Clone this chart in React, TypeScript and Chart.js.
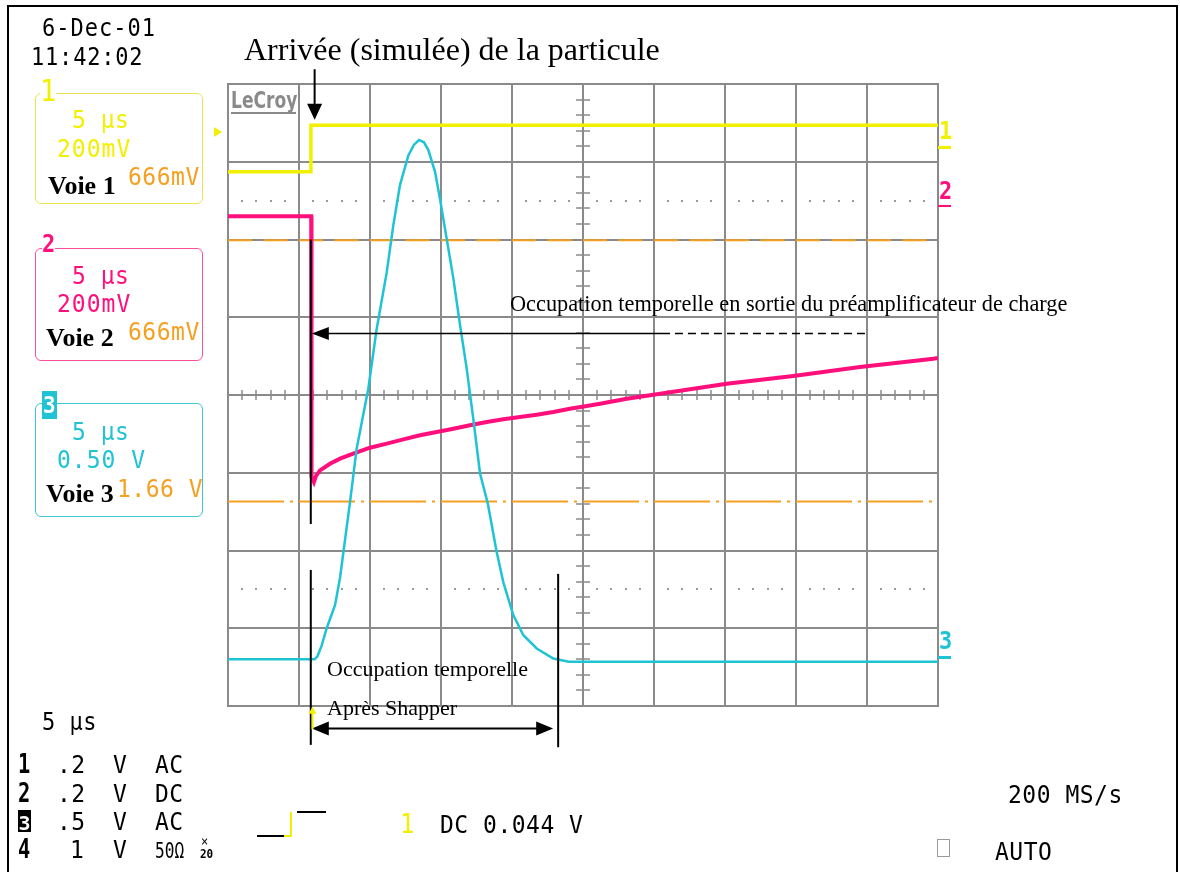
import React, { useEffect, useRef } from "react";
import { Chart, registerables } from "chart.js";

Chart.register(...registerables);

const W = 1180;
const H = 872;

// Graticule: 10 horizontal divisions of 5 µs, 8 vertical divisions
const timeGridUs = [0, 5, 10, 15, 20, 25, 30, 35, 40, 45, 50];
const levelGridDiv = [-4, -3, -2, -1, 0, 1, 2, 3, 4];

// Voie 1 (yellow) – trigger step
const ch1TimeUs = [0, 5.82, 5.84, 50];
const ch1LevelDiv = [2.87, 2.87, 3.47, 3.47];

// Voie 2 (pink) – preamplifier output
const ch2TimeUs = [0, 5.86, 5.88, 6.05, 6.2, 6.48, 7.18, 7.89, 8.82, 10.0, 11.18, 12.35, 13.52, 14.7, 15.87, 17.04, 18.22, 19.39, 20.56, 21.74, 22.91, 24.08, 25.26, 26.2, 28.08, 31.6, 35.12, 39.81, 44.51, 49.67, 50];
const ch2LevelDiv = [2.3, 2.3, -1.05, -1.12, -1.04, -0.97, -0.884, -0.819, -0.755, -0.678, -0.626, -0.57, -0.518, -0.476, -0.433, -0.39, -0.347, -0.313, -0.283, -0.253, -0.219, -0.176, -0.141, -0.112, -0.048, 0.048, 0.145, 0.244, 0.36, 0.467, 0.476];

// Voie 3 (cyan) – shaper output
const ch3TimeUs = [0, 6.1, 6.3, 6.6, 6.95, 7.54, 7.89, 8.59, 9.06, 9.88, 10.47, 11.18, 11.64, 12.11, 12.7, 13.1, 13.45, 13.8, 14.11, 14.58, 14.93, 15.4, 15.87, 16.34, 16.81, 17.27, 17.75, 18.3, 18.9, 19.39, 20.09, 20.8, 21.74, 22.91, 24.0, 50];
const ch3LevelDiv = [-3.4, -3.4, -3.36, -3.22, -3.0, -2.7, -2.35, -1.38, -0.69, 0.08, 0.85, 1.58, 2.18, 2.7, 3.08, 3.22, 3.28, 3.25, 3.15, 2.87, 2.52, 2.01, 1.5, 0.9, 0.34, -0.3, -1.01, -1.4, -2.0, -2.41, -2.83, -3.09, -3.26, -3.39, -3.43, -3.43];

// Orange reference levels
const refTimeUs = [0, 50];
const refDashedDiv = [1.99, 1.99];
const refDashDotDiv = [-1.37, -1.37];

// Annotation positions (data units)
const arrivalUs = 5.83;
const arrivalArrowUs = 6.1;
const arrivalArrowDiv = [4.19, 3.54];
const arrivalLineDiv = [2.0, -1.66];
const preampArrowDiv = 0.79;
const preampSolidEndUs = 30.56;
const preampDashEndUs = 44.93;
const shaperEndUs = 23.25;
const shaperArrowEndUs = 22.9;
const shaperArrowDiv = -4.29;
const shaperLineLeftDiv = [-2.25, -4.5];
const shaperLineRightDiv = [-2.3, -4.53];
const triggerMarkUs = 5.95;
const triggerMarkDiv = [-4.3, -4.01];

const YELLOW = "#f2f000";
const PINK = "#ff0f7b";
const CYAN = "#1fc3d3";
const ORANGE = "#f5a021";
const GRID = "#8a8a8a";

const MONO = '"DejaVu Sans Mono", monospace';
const SERIF = '"Liberation Serif", "Times New Roman", serif';

function seg(ctx: CanvasRenderingContext2D, x1: number, y1: number, x2: number, y2: number) {
  ctx.beginPath();
  ctx.moveTo(x1, y1);
  ctx.lineTo(x2, y2);
  ctx.stroke();
}

function head(ctx: CanvasRenderingContext2D, tx: number, ty: number, dx: number, dy: number, len: number, half: number) {
  const bx = tx - dx * len;
  const by = ty - dy * len;
  const nx = -dy;
  const ny = dx;
  ctx.beginPath();
  ctx.moveTo(tx, ty);
  ctx.lineTo(bx + nx * half, by + ny * half);
  ctx.lineTo(bx - nx * half, by - ny * half);
  ctx.closePath();
  ctx.fill();
}

const graticulePlugin = {
  id: "graticule",
  beforeDatasetsDraw(chart: any) {
    const { ctx, chartArea: a } = chart;
    const xs = chart.scales.x;
    const ys = chart.scales.y;
    ctx.save();
    ctx.strokeStyle = GRID;
    ctx.lineWidth = 2;
    timeGridUs.forEach((t) => {
      const px = Math.round(xs.getPixelForValue(t));
      seg(ctx, px, a.top - 1, px, a.bottom + 1);
    });
    levelGridDiv.forEach((v) => {
      const py = Math.round(ys.getPixelForValue(v));
      seg(ctx, a.left - 1, py, a.right + 1, py);
    });
    const cx = Math.round(xs.getPixelForValue(25));
    const cy = Math.round(ys.getPixelForValue(0));
    ctx.lineWidth = 1.5;
    for (let k = -20; k <= 20; k++) {
      if (k % 5 === 0) continue;
      const py = Math.round(ys.getPixelForValue(k / 5));
      seg(ctx, cx - 7, py, cx + 7, py);
    }
    for (let k = 1; k < 50; k++) {
      if (k % 5 === 0) continue;
      const px = Math.round(xs.getPixelForValue(k));
      seg(ctx, px, cy - 5, px, cy + 5);
    }
    ctx.fillStyle = "#9a9a9a";
    [2.5, -2.5].forEach((v) => {
      const py = Math.round(ys.getPixelForValue(v));
      for (let k = 1; k < 50; k++) {
        if (k % 5 === 0) continue;
        const px = Math.round(xs.getPixelForValue(k));
        ctx.fillRect(px - 1, py - 1, 2, 2);
      }
    });
    ctx.restore();
  },
};

const annotationPlugin = {
  id: "annotations",
  afterDatasetsDraw(chart: any) {
    const { ctx } = chart;
    const xs = chart.scales.x;
    const ys = chart.scales.y;
    const X = (v: number) => xs.getPixelForValue(v);
    const Y = (v: number) => ys.getPixelForValue(v);
    ctx.save();
    ctx.strokeStyle = "#000";
    ctx.fillStyle = "#000";

    // arrival arrow (down)
    ctx.lineWidth = 2;
    const ax = X(arrivalArrowUs);
    seg(ctx, ax, Y(arrivalArrowDiv[0]), ax, Y(arrivalArrowDiv[1]) - 10);
    head(ctx, ax, Y(arrivalArrowDiv[1]), 0, 1, 16, 7.5);

    // arrival vertical line
    const lx = X(arrivalUs);
    seg(ctx, lx, Y(arrivalLineDiv[0]), lx, Y(arrivalLineDiv[1]));

    // preamp occupation arrow (left)
    ctx.lineWidth = 1.5;
    const py = Y(preampArrowDiv);
    seg(ctx, lx + 8, py, X(preampSolidEndUs), py);
    ctx.setLineDash([8, 5]);
    seg(ctx, X(preampSolidEndUs), py, X(preampDashEndUs), py);
    ctx.setLineDash([]);
    head(ctx, lx + 1, py, -1, 0, 17, 6.5);

    // shaper occupation
    ctx.lineWidth = 2;
    seg(ctx, lx, Y(shaperLineLeftDiv[0]), lx, Y(shaperLineLeftDiv[1]));
    const rx = X(shaperEndUs);
    seg(ctx, rx, Y(shaperLineRightDiv[0]), rx, Y(shaperLineRightDiv[1]));
    const sy = Y(shaperArrowDiv);
    const sx2 = X(shaperArrowEndUs);
    seg(ctx, lx + 10, sy, sx2 - 10, sy);
    head(ctx, lx + 1, sy, -1, 0, 17, 7);
    head(ctx, sx2, sy, 1, 0, 17, 7);

    // trigger marker
    ctx.strokeStyle = YELLOW;
    ctx.fillStyle = YELLOW;
    ctx.lineWidth = 2;
    const tx = X(triggerMarkUs);
    seg(ctx, tx, Y(triggerMarkDiv[0]), tx, Y(triggerMarkDiv[1]) + 4);
    head(ctx, tx, Y(triggerMarkDiv[1]), 0, -1, 7, 4);
    ctx.restore();
  },
};

function pts(xs: number[], ys: number[]) {
  return xs.map((x, i) => ({ x, y: ys[i] }));
}

type TP = {
  x: number;
  b: number;
  size: number;
  text: string;
  color?: string;
  font?: string;
  bold?: boolean;
  ls?: number;
  bg?: string;
  sx?: number;
  sy?: number;
};

function T({ x, b, size, text, color = "#000", font = MONO, bold = false, ls = 0, bg, sx = 1, sy }: TP) {
  const ratio = font === SERIF ? 0.8375 : 0.846;
  const syv = sy !== undefined ? sy : font === MONO ? 1.1 : 1;
  return (
    <div
      style={{
        position: "absolute",
        left: x,
        top: b - ratio * size,
        fontFamily: font,
        fontSize: size,
        lineHeight: `${size}px`,
        color,
        fontWeight: bold ? 700 : 400,
        letterSpacing: ls,
        whiteSpace: "pre",
        background: bg,
        transform: sx !== 1 || syv !== 1 ? `scale(${sx}, ${syv})` : undefined,
        transformOrigin: `0px ${ratio * size}px`,
      }}
    >
      {text}
    </div>
  );
}

function Box({ top, height, color }: { top: number; height: number; color: string }) {
  return (
    <div
      style={{
        position: "absolute",
        left: 35,
        top,
        width: 168,
        height,
        border: `1.5px solid ${color}`,
        borderRadius: 6,
        boxSizing: "border-box",
      }}
    />
  );
}

function Rect({ l, t, w, h, c }: { l: number; t: number; w: number; h: number; c: string }) {
  return <div style={{ position: "absolute", left: l, top: t, width: w, height: h, background: c }} />;
}

const rowIds = ["1", "2", "3", "4"];
const rowScale = [".2", ".2", ".5", "1"];
const rowUnit = ["V", "V", "V", "V"];
const rowCoupling = ["AC", "DC", "AC", "50Ω"];
const rowBase = [773, 802, 830, 858];

export default function App() {
  const ref = useRef<HTMLCanvasElement | null>(null);

  useEffect(() => {
    if (!ref.current) return;
    const chart = new Chart(ref.current, {
      type: "line",
      data: {
        datasets: [
          { label: "Voie 3", data: pts(ch3TimeUs, ch3LevelDiv), borderColor: CYAN, borderWidth: 2.5, pointRadius: 0, order: 0 },
          { label: "Voie 2", data: pts(ch2TimeUs, ch2LevelDiv), borderColor: PINK, borderWidth: 4, pointRadius: 0, order: 1 },
          { label: "Voie 1", data: pts(ch1TimeUs, ch1LevelDiv), borderColor: YELLOW, borderWidth: 3.5, pointRadius: 0, order: 2 },
          { label: "ref1", data: pts(refTimeUs, refDashedDiv), borderColor: ORANGE, borderWidth: 2, borderDash: [24, 11.5], pointRadius: 0, order: 3 },
          { label: "ref2", data: pts(refTimeUs, refDashDotDiv), borderColor: ORANGE, borderWidth: 1.8, borderDash: [56, 6, 3, 6], pointRadius: 0, order: 4 },
        ] as any,
      },
      options: {
        animation: false,
        responsive: false,
        devicePixelRatio: 1,
        events: [],
        layout: { padding: { left: 228, top: 84, right: 242, bottom: 166 } },
        plugins: { legend: { display: false }, tooltip: { enabled: false } },
        scales: {
          x: { type: "linear", min: 0, max: 50, display: false },
          y: { type: "linear", min: -4, max: 4, display: false },
        },
      },
      plugins: [graticulePlugin, annotationPlugin],
    });
    return () => chart.destroy();
  }, []);

  return (
    <div style={{ position: "absolute", left: 0, top: 0, width: W, height: H, background: "#fff", overflow: "hidden" }}>
      <canvas ref={ref} width={W} height={H} style={{ position: "absolute", left: 0, top: 0, width: W, height: H }} />
      <div style={{ position: "absolute", left: 7, top: 5, width: 1167, height: 900, border: "2px solid #000" }} />

      {/* date / time */}
      <T x={42} b={37} size={22} ls={1} text="6-Dec-01" />
      <T x={31} b={66} size={22} ls={0.8} text="11:42:02" />

      {/* titles */}
      <T x={244} b={60} size={32} font={SERIF} text="Arrivée (simulée) de la particule" />
      <T x={510} b={312} size={22.3} font={SERIF} text="Occupation temporelle en sortie du préamplificateur de charge" />
      <T x={327} b={676} size={22} font={SERIF} text="Occupation temporelle" />
      <T x={327} b={715} size={22} font={SERIF} text="Après Shapper" />

      {/* LeCroy logo */}
      <T x={231} b={108} size={19} font='"DejaVu Sans Condensed", "DejaVu Sans", sans-serif' bold color="#8a8a8a" sy={1.25} text="LeCroy" />
      <Rect l={231} t={111.5} w={65} h={2.5} c="#8a8a8a" />

      {/* channel boxes */}
      <Box top={93} height={111} color="#ece44e" />
      <T x={40} b={101} size={27} color={YELLOW} bg="#fff" text="1" />
      <T x={72} b={128} size={23} ls={0.5} color={YELLOW} text="5 µs" />
      <T x={57} b={157} size={23} ls={1} color={YELLOW} text="200mV" />
      <T x={48} b={195} size={26} font={SERIF} bold text="Voie 1" />
      <T x={128} b={185} size={23} ls={0.5} color={ORANGE} text="666mV" />

      <Box top={248} height={113} color="#ff4f9a" />
      <T x={42} b={253} size={22} bold color={PINK} bg="#fff" text="2" />
      <T x={72} b={284} size={23} ls={0.5} color={PINK} text="5 µs" />
      <T x={57} b={312} size={23} ls={1} color={PINK} text="200mV" />
      <T x={46} b={347} size={26} font={SERIF} bold text="Voie 2" />
      <T x={128} b={340} size={23} ls={0.5} color={ORANGE} text="666mV" />

      <Box top={403} height={114} color="#3cc6d6" />
      <Rect l={42} t={391} w={15} h={28} c={CYAN} />
      <T x={43} b={414} size={21} bold color="#fff" text="3" />
      <T x={72} b={440} size={23} ls={0.5} color={CYAN} text="5 µs" />
      <T x={57} b={468} size={23} ls={1} color={CYAN} text="0.50 V" />
      <T x={46} b={503} size={26} font={SERIF} bold text="Voie 3" />
      <T x={117} b={497} size={23} ls={0.5} color={ORANGE} text="1.66 V" />

      {/* left/right channel markers */}
      <div style={{ position: "absolute", left: 214, top: 127, width: 0, height: 0, borderTop: "5.5px solid transparent", borderBottom: "5.5px solid transparent", borderLeft: `8px solid ${YELLOW}` }} />
      <T x={939} b={140} size={22} bold color={YELLOW} text="1" />
      <Rect l={938} t={146} w={13} h={2.5} c={YELLOW} />
      <T x={939} b={200} size={22} bold color={PINK} text="2" />
      <Rect l={938} t={204.5} w={13} h={2.5} c={PINK} />
      <T x={939} b={650} size={22} bold color={CYAN} text="3" />
      <Rect l={938} t={656} w={13} h={2.5} c={CYAN} />

      {/* bottom info */}
      <T x={42} b={731} size={22} ls={0.5} text="5 µs" />
      {rowIds.map((id, i) =>
        id === "3" ? (
          <React.Fragment key={id}>
            <Rect l={18} t={rowBase[i] - 20} w={13} h={22} c="#000" />
            <T x={18.5} b={rowBase[i]} size={20} bold color="#fff" sy={1} text={id} />
          </React.Fragment>
        ) : (
          <T key={id} x={18} b={rowBase[i]} size={24} bold sx={0.85} text={id} />
        )
      )}
      {rowScale.map((s, i) => (
        <T key={"s" + i} x={s.length === 1 ? 70 : 57} b={rowBase[i]} size={23} ls={0.5} text={s} />
      ))}
      {rowUnit.map((s, i) => (
        <T key={"u" + i} x={113} b={rowBase[i]} size={23} text={s} />
      ))}
      {rowCoupling.map((s, i) => (
        <T key={"c" + i} x={155} b={rowBase[i]} size={i === 3 ? 19 : 23} sx={i === 3 ? 0.85 : 1} ls={i === 3 ? 0 : 0.5} text={s} />
      ))}
      <T x={201} b={846} size={12} text="×" />
      <T x={200} b={858} size={11} bold text="20" />

      {/* trigger symbol */}
      <Rect l={257} t={835} w={31} h={2} c="#000" />
      <Rect l={284} t={835} w={8} h={2} c={YELLOW} />
      <Rect l={290} t={812} w={2} h={25} c={YELLOW} />
      <Rect l={297} t={811} w={29} h={2} c="#000" />
      <T x={400} b={833} size={24} color={YELLOW} text="1" />
      <T x={440} b={833} size={23} ls={0.5} text="DC 0.044 V" />

      <T x={1008} b={803} size={23} ls={0.5} text="200 MS/s" />
      <div style={{ position: "absolute", left: 937, top: 839, width: 13, height: 18, border: "1.5px solid #9a9a9a", boxSizing: "border-box" }} />
      <T x={995} b={860} size={23} ls={0.5} text="AUTO" />
    </div>
  );
}
